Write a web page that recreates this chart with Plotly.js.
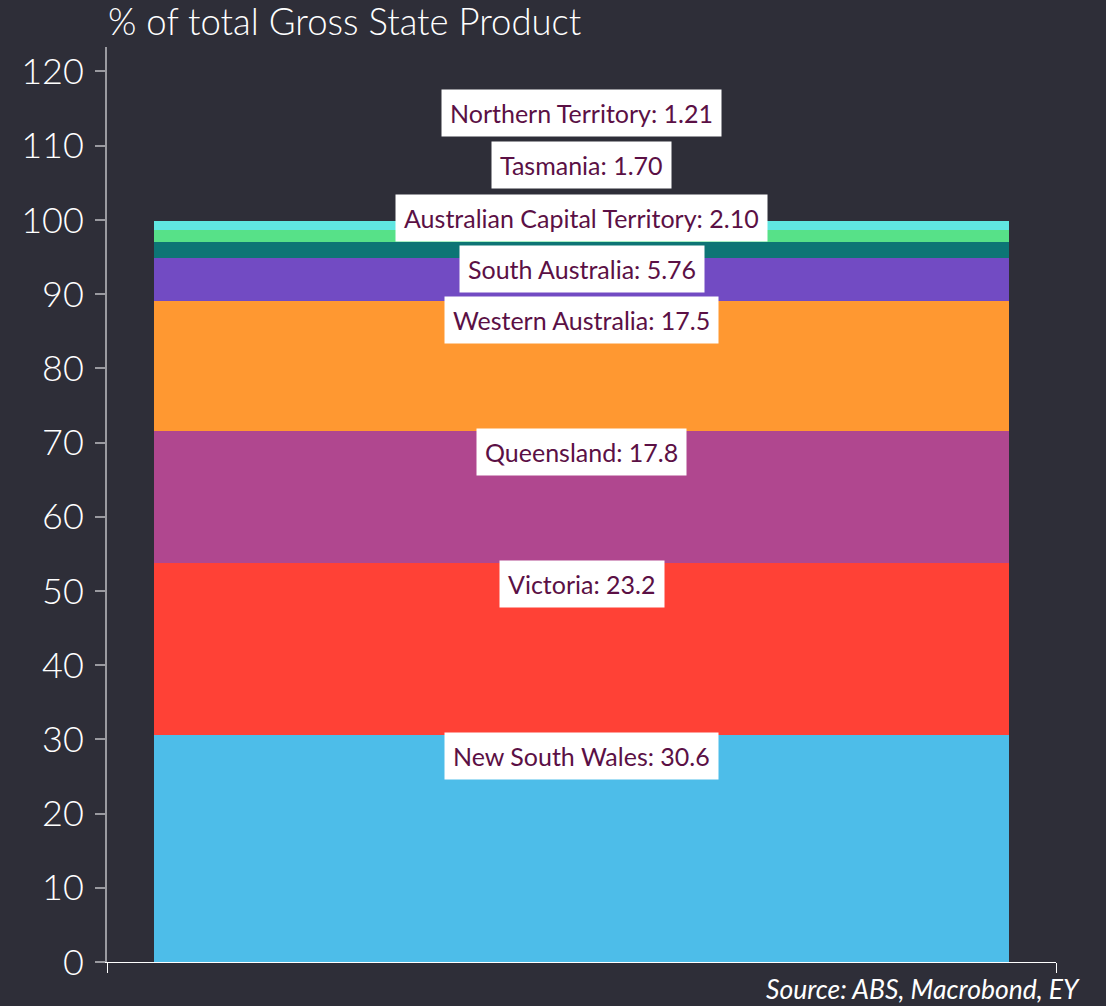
<!DOCTYPE html>
<html>
<head>
<meta charset="utf-8">
<script src="https://cdn.plot.ly/plotly-3.0.1.min.js"></script>
<style>html,body{margin:0;padding:0;background:#2e2e38;}#chart{width:1106px;height:1006px;}</style>
</head>
<body>
<div id="chart"></div>
<script>
// Data (bottom to top of stack)
const states = ["New South Wales", "Victoria", "Queensland", "Western Australia", "South Australia", "Australian Capital Territory", "Tasmania", "Northern Territory"];
const shares = [30.6, 23.2, 17.8, 17.5, 5.76, 2.10, 1.70, 1.21];
const shareLabels = ["30.6", "23.2", "17.8", "17.5", "5.76", "2.10", "1.70", "1.21"];
const colors = ["#4dbde9", "#ff4136", "#b0478f", "#ff9831", "#724bc3", "#0d7575", "#57e188", "#60e6e1"];
const yTicks = [0, 10, 20, 30, 40, 50, 60, 70, 80, 90, 100, 110, 120];

// label placement: extra lift (in axis units) applied to crowded labels at top
const labelLift = [0.4, 0.4, 0.4, 0.6, 1.7, 6.5, 12.0, 17.8];

const traces = states.map((s, i) => ({
  type: 'bar',
  x: [0.5],
  y: [shares[i]],
  width: [0.9],
  name: s,
  marker: {color: colors[i], line: {width: 0}},
  hoverinfo: 'name+y'
}));

const annotations = [];
let cum = 0;
states.forEach((s, i) => {
  cum += shares[i];
  annotations.push({
    x: 0.5, xref: 'x', y: cum + labelLift[i], yref: 'y',
    xanchor: 'center', yanchor: 'top',
    text: s + ': ' + shareLabels[i],
    showarrow: false,
    bgcolor: '#ffffff',
    borderpad: 8,
    font: {family: 'Lato, sans-serif', size: 25, color: '#5b1045'}
  });
});
annotations.push({
  xref: 'paper', yref: 'paper', x: 1.027, y: -0.029, xanchor: 'right', yanchor: 'middle',
  text: '<i>Source: ABS, Macrobond, EY</i>', showarrow: false,
  font: {family: 'Lato, sans-serif', size: 26.5, color: '#ffffff'}
});

const layout = {
  width: 1106, height: 1006,
  paper_bgcolor: '#2e2e38', plot_bgcolor: '#2e2e38',
  margin: {l: 107, r: 50, t: 47, b: 44},
  showlegend: false,
  barmode: 'stack',
  title: {
    text: '% of total Gross State Product',
    xref: 'container', yref: 'container', x: 108/1106, xanchor: 'left',
    y: 1 - 22/1006, yanchor: 'middle',
    font: {family: 'Lato, sans-serif', size: 36.5, color: '#ffffff', weight: 300}
  },
  xaxis: {
    range: [0, 1], showgrid: false, zeroline: false,
    showline: true, linecolor: '#ffffff', linewidth: 1,
    tickmode: 'array', tickvals: [0, 1], ticktext: ['', ''],
    ticks: 'outside', ticklen: 10, tickcolor: '#ffffff', tickwidth: 1,
    fixedrange: true
  },
  yaxis: {
    range: [0, 123.3], showgrid: false, zeroline: false,
    showline: true, linecolor: '#9a9aa0', linewidth: 2,
    tickmode: 'array', tickvals: yTicks, ticktext: yTicks.map(String),
    ticks: 'outside', ticklen: 10, tickcolor: '#9a9aa0', tickwidth: 2,
    ticklabelstandoff: 4,
    tickfont: {family: 'Lato, sans-serif', size: 36, color: '#ffffff', weight: 300},
    fixedrange: true
  },
  annotations: annotations
};

Plotly.newPlot('chart', traces, layout, {displayModeBar: false, staticPlot: true});
</script>
</body>
</html>
